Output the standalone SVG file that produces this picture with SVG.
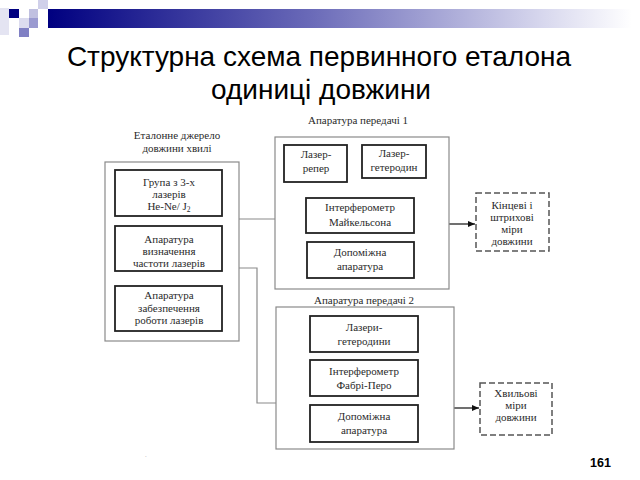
<svg xmlns="http://www.w3.org/2000/svg" width="640" height="480" viewBox="0 0 640 480">
<defs>
<linearGradient id="bar" x1="0" y1="0" x2="1" y2="0">
<stop offset="0" stop-color="#000080"/>
<stop offset="0.45" stop-color="#6a6ab8"/>
<stop offset="0.85" stop-color="#d8d8ee"/>
<stop offset="1" stop-color="#ffffff"/>
</linearGradient>
<marker id="arr" markerWidth="8" markerHeight="6" refX="7" refY="3" orient="auto" markerUnits="userSpaceOnUse">
<path d="M0,0 L7,3 L0,6 Z" fill="#111"/>
</marker>
<style>
.t{font-size:11px;fill:#2a2a2a;text-anchor:middle}
.outer{fill:#fff;stroke:#8a8a8a;stroke-width:1.2}
.inner{fill:#fff;stroke:#222;stroke-width:1.8}
.dash{fill:#fff;stroke:#555;stroke-width:1.5;stroke-dasharray:6,3}
.con{fill:none;stroke:#8a8a8a;stroke-width:1.2}
.title{font-size:28px;fill:#000;text-anchor:middle}
</style>
</defs>
<rect width="640" height="480" fill="#fff"/>
<g id="decor">
<rect x="48" y="9" width="584" height="19" fill="url(#bar)"/>
<rect x="0" y="8" width="9" height="27" fill="#e4e4f2"/>
<rect x="9" y="9" width="10" height="9" fill="#000080"/>
<rect x="38" y="0" width="10" height="9" fill="#d0d0ea"/>
<rect x="29" y="9" width="9" height="9" fill="#c0c0e0"/>
<rect x="29" y="18" width="9" height="10" fill="#9a9ad0"/>
<rect x="19" y="18" width="10" height="10" fill="#dcdcef"/>
<rect x="19" y="28" width="10" height="9" fill="#8080c4"/>
</g>
<g font-family="Liberation Sans, Arial, sans-serif">
<text class="title" x="319" y="66">Структурна схема первинного еталона</text>
<text class="title" x="321" y="99">одиниці довжини</text>
</g>

<g id="connectors">
<polyline class="con" points="239,219 275,219"/>
<polyline class="con" points="239,268 257,268 257,403 276,403"/>
<line class="con" x1="449" y1="224" x2="475" y2="224" marker-end="url(#arr)" style="stroke:#111"/>
<line class="con" x1="454" y1="408" x2="479" y2="408" marker-end="url(#arr)" style="stroke:#111"/>
<line class="con" x1="319" y1="182" x2="319" y2="198" style="stroke:#555"/>
<line class="con" x1="400" y1="178" x2="400" y2="198" style="stroke:#555"/>
</g>

<g font-family="Liberation Serif, Times New Roman, serif">
<g id="source">
<text class="t" x="177" y="139">Еталонне джерело</text>
<text class="t" x="177" y="152">довжини хвилі</text>
<rect class="outer" x="105" y="162" width="134" height="179"/>
</g>
<g id="lasers">
<rect class="inner" x="115" y="170" width="107" height="46"/>
<text class="t" x="169" y="186">Група з 3-х</text>
<text class="t" x="169" y="198">лазерів</text>
<text class="t" x="169" y="210">He-Ne/ J<tspan font-size="7.5" dy="2">2</tspan></text>
</g>
<g id="freq">
<rect class="inner" x="115" y="226" width="107" height="45"/>
<text class="t" x="169" y="243">Апаратура</text>
<text class="t" x="169" y="255">визначення</text>
<text class="t" x="169" y="267">частоти лазерів</text>
</g>
<g id="support">
<rect class="inner" x="115" y="286" width="107" height="45"/>
<text class="t" x="169" y="299">Апаратура</text>
<text class="t" x="169" y="312">забезпечення</text>
<text class="t" x="169" y="324">роботи лазерів</text>
</g>

<g id="transfer1">
<text class="t" x="358" y="124">Апаратура передачі 1</text>
<rect class="outer" x="275" y="137" width="174" height="152"/>
</g>
<g id="ref-laser">
<rect class="inner" x="284" y="145" width="63" height="37"/>
<text class="t" x="316" y="158">Лазер-</text>
<text class="t" x="316" y="172">репер</text>
</g>
<g id="het-laser">
<rect class="inner" x="362" y="145" width="64" height="33"/>
<text class="t" x="394" y="157">Лазер-</text>
<text class="t" x="394" y="171">гетеродин</text>
</g>
<g id="michelson">
<rect class="inner" x="306" y="198" width="108" height="35"/>
<text class="t" x="360" y="211">Інтерферометр</text>
<text class="t" x="360" y="226">Майкельсона</text>
</g>
<g id="aux1">
<rect class="inner" x="307" y="242" width="107" height="36"/>
<text class="t" x="360" y="256">Допоміжна</text>
<text class="t" x="360" y="270">апаратура</text>
</g>

<g id="transfer2">
<text class="t" x="364" y="304">Апаратура передачі 2</text>
<rect class="outer" x="276" y="307" width="178" height="142"/>
</g>
<g id="het-lasers">
<rect class="inner" x="310" y="316" width="108" height="36"/>
<text class="t" x="364" y="331">Лазери-</text>
<text class="t" x="364" y="345">гетеродини</text>
</g>
<g id="fabry">
<rect class="inner" x="310" y="360" width="108" height="36"/>
<text class="t" x="364" y="375">Інтерферометр</text>
<text class="t" x="364" y="389">Фабрі-Перо</text>
</g>
<g id="aux2">
<rect class="inner" x="310" y="405" width="108" height="37"/>
<text class="t" x="364" y="420">Допоміжна</text>
<text class="t" x="364" y="434">апаратура</text>
</g>

<g id="end-measures">
<rect class="dash" x="476" y="193" width="73" height="58"/>
<text class="t" x="512" y="209">Кінцеві і</text>
<text class="t" x="512" y="221">штрихові</text>
<text class="t" x="512" y="233">міри</text>
<text class="t" x="512" y="245">довжини</text>
</g>
<g id="wave-measures">
<rect class="dash" x="480" y="383" width="72" height="52"/>
<text class="t" x="516" y="397">Хвильові</text>
<text class="t" x="516" y="409">міри</text>
<text class="t" x="516" y="421">довжини</text>
</g>
</g>

<text x="145" y="457" font-family="Liberation Sans, sans-serif" font-size="6" fill="#888">.</text>
<text x="590" y="467" font-family="Liberation Sans, Arial, sans-serif" font-size="12.5" font-weight="bold" fill="#000">161</text>
</svg>
